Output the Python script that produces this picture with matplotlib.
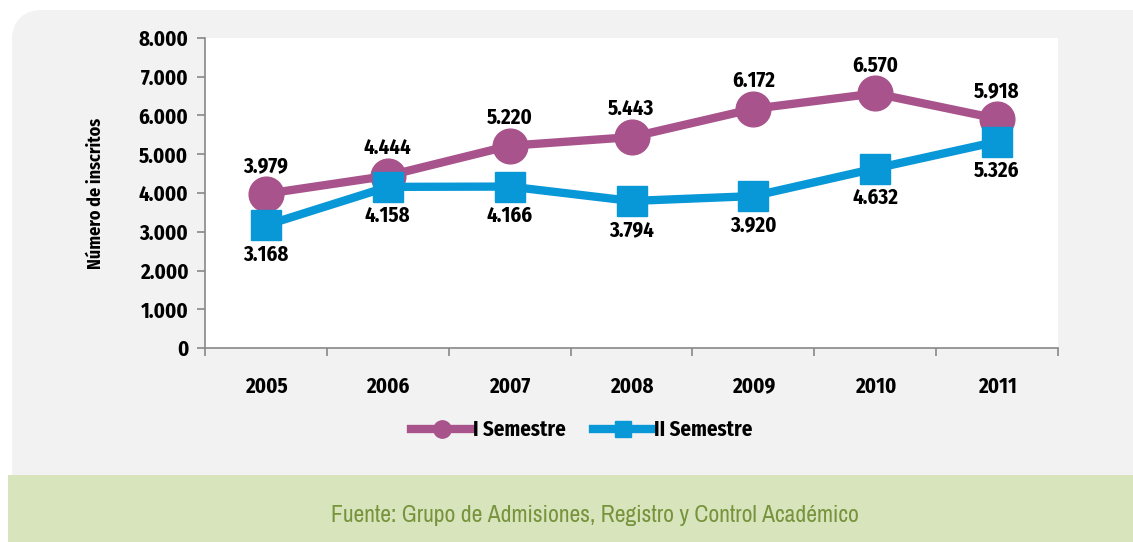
import matplotlib.pyplot as plt
from matplotlib.patches import FancyBboxPatch, Rectangle

years = ['2005', '2006', '2007', '2008', '2009', '2010', '2011']
sem1 = [3979, 4444, 5220, 5443, 6172, 6570, 5918]
sem2 = [3168, 4158, 4166, 3794, 3920, 4632, 5326]
yticks = [0, 1000, 2000, 3000, 4000, 5000, 6000, 7000, 8000]

c1 = '#A8538B'
c2 = '#0898D8'
grey = '#F2F2F2'
fnt = ['Fira Sans Condensed', 'Liberation Sans', 'DejaVu Sans']
fnt_src = ['Archivo Narrow', 'Liberation Sans', 'DejaVu Sans']

def fmt(v):
    return f'{v:,}'.replace(',', '.')

W, H = 1133, 542
fig = plt.figure(figsize=(W / 100, H / 100), dpi=100)
fig.patch.set_facecolor('white')

# background panels drawn in pixel coordinates
bg = fig.add_axes([0, 0, 1, 1], zorder=-5)
bg.set_xlim(0, W)
bg.set_ylim(H, 0)
bg.axis('off')
bg.add_patch(FancyBboxPatch((12, 10), W + 30 - 12, 520, boxstyle='round,pad=0,rounding_size=32',
                            fc=grey, ec='none'))
bg.add_patch(FancyBboxPatch((12, 10), W - 12 - 8, 520, boxstyle='round,pad=0,rounding_size=32',
                            fc=grey, ec='none'))
bg.add_patch(Rectangle((8, 475), W, 80, fc='#D8E4BC', ec='none'))

ax = fig.add_axes([205 / W, (H - 348) / H, (1058 - 205) / W, (348 - 38) / H])
ax.set_facecolor('white')
x = list(range(len(years)))

ax.plot(x, sem1, color=c1, lw=6, marker='o', ms=25, label='I Semestre', zorder=3)
ax.plot(x, sem2, color=c2, lw=6, marker='s', ms=22, label='II Semestre', zorder=4)

ax.set_xlim(-0.5, len(years) - 0.5)
ax.set_ylim(0, 8000)
ax.set_yticks(yticks)
ax.set_yticklabels([fmt(v) for v in yticks])
ax.set_xticks(x)
ax.set_xticklabels(years)
ax.set_xticks([i - 0.5 for i in range(len(years) + 1)], minor=True)
ax.tick_params(axis='x', which='major', length=0, pad=20)
ax.tick_params(axis='x', which='minor', length=6, color='#888888', width=1.2)
ax.tick_params(axis='y', length=6, color='#888888', width=1.2, pad=6)
for lab in ax.get_xticklabels() + ax.get_yticklabels():
    lab.set_family(fnt)
    lab.set_fontweight('bold')
    lab.set_fontsize(15)
for s in ['top', 'right']:
    ax.spines[s].set_visible(False)
for s in ['left', 'bottom']:
    ax.spines[s].set_color('#888888')
    ax.spines[s].set_linewidth(1.2)

ax.set_ylabel('Número de inscritos', family=fnt, fontweight='bold', fontsize=13, labelpad=24)

for i in range(len(years)):
    ax.annotate(fmt(sem1[i]), (x[i], sem1[i]), xytext=(0, 20), textcoords='offset points',
                ha='center', va='center', family=fnt, fontweight='bold', fontsize=15)
    ax.annotate(fmt(sem2[i]), (x[i], sem2[i]), xytext=(0, -21), textcoords='offset points',
                ha='center', va='center', family=fnt, fontweight='bold', fontsize=15)

leg = fig.legend(loc='center', bbox_to_anchor=(582 / W, (H - 430) / H), ncol=2, frameon=False,
                 handlelength=2.9, markerscale=0.5, columnspacing=1.3, handletextpad=0.05,
                 prop={'family': fnt, 'weight': 'bold', 'size': 15})

fig.text(595 / W, (H - 515) / H, 'Fuente: Grupo de Admisiones, Registro y Control Académico',
         ha='center', va='center', color='#77933C', fontsize=17, family=fnt_src)

fig.savefig('out.png', dpi=100, facecolor='white')
